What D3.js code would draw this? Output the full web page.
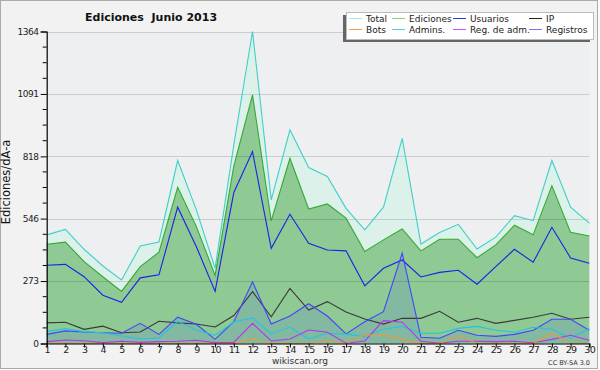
<!DOCTYPE html>
<html>
<head>
<meta charset="utf-8">
<script src="https://cdn.jsdelivr.net/npm/d3@7"></script>
<style>
  body { margin: 0; background: #fff; }
  svg text { font-family: "DejaVu Sans", sans-serif; }
</style>
</head>
<body>
<svg id="chart" width="600" height="370"></svg>
<script>
// days of june 2013
var days = d3.range(1, 31);

var total     = [475, 499, 412, 339, 278, 426, 444, 800, 584, 329, 868, 1364, 628, 934, 769, 730, 591, 497, 596, 897, 435, 485, 521, 413, 465, 559, 537, 800, 596, 526];
var ediciones = [434, 443, 358, 292, 228, 336, 399, 683, 511, 298, 775, 1087, 536, 810, 588, 610, 548, 402, 453, 501, 405, 456, 456, 375, 431, 517, 475, 690, 486, 470];
var usuarios  = [342, 346, 292, 211, 180, 287, 300, 596, 423, 228, 660, 839, 416, 565, 438, 409, 405, 252, 329, 365, 291, 311, 320, 259, 336, 412, 355, 508, 374, 351];
var ip        = [90, 93, 62, 76, 47, 50, 97, 90, 85, 72, 122, 227, 117, 241, 146, 183, 138, 107, 85, 110, 110, 141, 93, 110, 88, 101, 115, 132, 106, 115];
var bots      = [0, 0, 0, 0, 0, 0, 0, 0, 0, 0, 0, 20, 0, 0, 0, 11, 0, 37, 37, 18, 0, 0, 34, 0, 0, 0, 0, 45, 0, 0];
var admins    = [52, 65, 52, 47, 33, 20, 24, 97, 59, 36, 94, 112, 42, 72, 20, 45, 41, 30, 62, 75, 45, 45, 66, 75, 58, 49, 71, 62, 23, 66];
var regAdm    = [8, 15, 12, 4, 10, 5, 8, 10, 14, 4, 5, 88, 11, 20, 59, 49, 1, 11, 100, 93, 10, 1, 10, 10, 8, 10, 3, 18, 36, 14];
var registros = [40, 55, 50, 47, 45, 88, 40, 115, 84, 18, 95, 270, 85, 120, 174, 120, 42, 95, 139, 395, 27, 23, 58, 36, 31, 40, 58, 106, 106, 58];

var yTicks = [0, 273, 546, 818, 1091, 1364];
var yMax = 1364;

var svg = d3.select("#chart");

var x = d3.scaleLinear().domain([1, 30]).range([46.7, 589.3]);
var y = d3.scaleLinear().domain([0, yMax]).range([343.5, 31.5]);

// frame
svg.append("rect").attr("x", 0.5).attr("y", 0.5).attr("width", 597).attr("height", 368)
   .attr("fill", "#f2f2f2").attr("stroke", "#aaaaaa");
svg.append("rect").attr("x", x(1)).attr("y", y(yMax)).attr("width", x(30) - x(1)).attr("height", y(0) - y(yMax))
   .attr("fill", "#eeeff1");

function area(vals) {
  return d3.area().x(function(d, i) { return x(days[i]); }).y0(y(0)).y1(function(d) { return y(d); })(vals);
}
function line(vals) {
  return d3.line().x(function(d, i) { return x(days[i]); }).y(function(d) { return y(d); })(vals);
}

svg.append("path").attr("d", area(total)).attr("fill", "#dcf1e9");
svg.append("path").attr("d", area(ediciones)).attr("fill", "#8fc994");
svg.append("path").attr("d", area(registros)).attr("fill", "#3344ff").attr("fill-opacity", 0.12);

// grid
svg.selectAll(".grid").data(yTicks.slice(1)).enter().append("line")
   .attr("x1", x(1)).attr("x2", x(30))
   .attr("y1", function(d) { return Math.round(y(d)) + 0.5; })
   .attr("y2", function(d) { return Math.round(y(d)) + 0.5; })
   .attr("stroke", "#000").attr("stroke-opacity", 0.14);

var series = [
  { name: "Total", vals: total, color: "#3fd0c8", leg: "#a8e6e2" },
  { name: "Ediciones", vals: ediciones, color: "#33aa33", leg: "#88cc88" },
  { name: "Usuarios", vals: usuarios, color: "#1a22e8", leg: "#3333dd" },
  { name: "IP", vals: ip, color: "#3a3a3a", leg: "#222222" },
  { name: "Bots", vals: bots, color: "#ee9933", leg: "#f0a040" },
  { name: "Admins.", vals: admins, color: "#22c4e4", leg: "#55ccdd" },
  { name: "Reg. de adm.", vals: regAdm, color: "#b833ee", leg: "#cc55ee" },
  { name: "Registros", vals: registros, color: "#4444ff", leg: "#7777ee" }
];

// draw lines, small ones last
[0, 1, 2, 3, 7, 5, 6, 4].forEach(function(k) {
  svg.append("path").attr("d", line(series[k].vals))
     .attr("fill", "none").attr("stroke", series[k].color).attr("stroke-width", 1.1);
});

// y axis
var yAxis = d3.axisLeft(y).tickValues(yTicks).tickSize(6).tickFormat(function(d) { return d; });
var gy = svg.append("g").attr("transform", "translate(" + x(1) + ",0)").call(yAxis);
gy.selectAll(".tick line").attr("stroke", "#000");
gy.selectAll("text").attr("font-size", 9).attr("font-family", "DejaVu Sans Condensed").attr("fill", "#222")
   .attr("letter-spacing", -0.4).attr("dx", 1);
gy.select(".domain").attr("stroke", "#000").attr("stroke-width", 1.2);
var minor = d3.range(0, yMax + 1, yMax / 20).filter(function(d, i) { return i % 4 != 0; });
gy.selectAll(".minor").data(minor).enter().append("line").attr("class", "minor")
   .attr("x1", -4).attr("x2", 0).attr("y1", function(d) { return y(d); }).attr("y2", function(d) { return y(d); })
   .attr("stroke", "#000");

// x axis
var xAxis = d3.axisBottom(x).tickValues(days).tickSize(4).tickFormat(d3.format("d"));
var gx = svg.append("g").attr("transform", "translate(0," + y(0) + ")").call(xAxis);
gx.selectAll(".tick line").attr("stroke", "#000");
gx.selectAll("text").attr("font-size", 9.5).attr("font-family", "DejaVu Sans Condensed").attr("fill", "#222")
   .attr("letter-spacing", -0.6).attr("y", 9).attr("dy", 0);
gx.select(".domain").attr("stroke", "#000").attr("stroke-width", 1.2);

// titles
svg.append("text").attr("x", 85).attr("y", 21).attr("font-size", 11).attr("font-weight", "bold")
   .attr("fill", "#111").attr("xml:space", "preserve").style("white-space", "pre").text("Ediciones  Junio 2013");
svg.append("text").attr("transform", "translate(10,182) rotate(-90)").attr("text-anchor", "middle")
   .attr("font-family", "DejaVu Sans Mono").attr("font-size", 11.5).attr("fill", "#111").text("Ediciones/dÃ-a");
svg.append("text").attr("x", 300).attr("y", 364).attr("text-anchor", "middle").attr("font-size", 9)
   .attr("fill", "#333").text("wikiscan.org");
svg.append("text").attr("x", 590).attr("y", 365).attr("text-anchor", "end").attr("font-size", 6.5)
   .attr("fill", "#333").text("CC BY-SA 3.0");

// legend
svg.append("rect").attr("x", 343).attr("y", 15).attr("width", 247).attr("height", 27).attr("fill", "#666");
svg.append("rect").attr("x", 346.5).attr("y", 12.5).attr("width", 247).attr("height", 27)
   .attr("fill", "#fff").attr("stroke", "#bbb");
var colX = [349, 392, 453, 529];
var leg = svg.selectAll(".leg").data(series).enter().append("g")
   .attr("transform", function(d, i) { return "translate(" + colX[i % 4] + "," + (i < 4 ? 18.5 : 29.5) + ")"; });
leg.append("line").attr("x1", 0).attr("x2", 13).attr("stroke", function(d) { return d.leg; });
leg.append("text").attr("x", 17).attr("y", 3.5).attr("font-size", 9).attr("fill", "#222").text(function(d) { return d.name; });
</script>
</body>
</html>
